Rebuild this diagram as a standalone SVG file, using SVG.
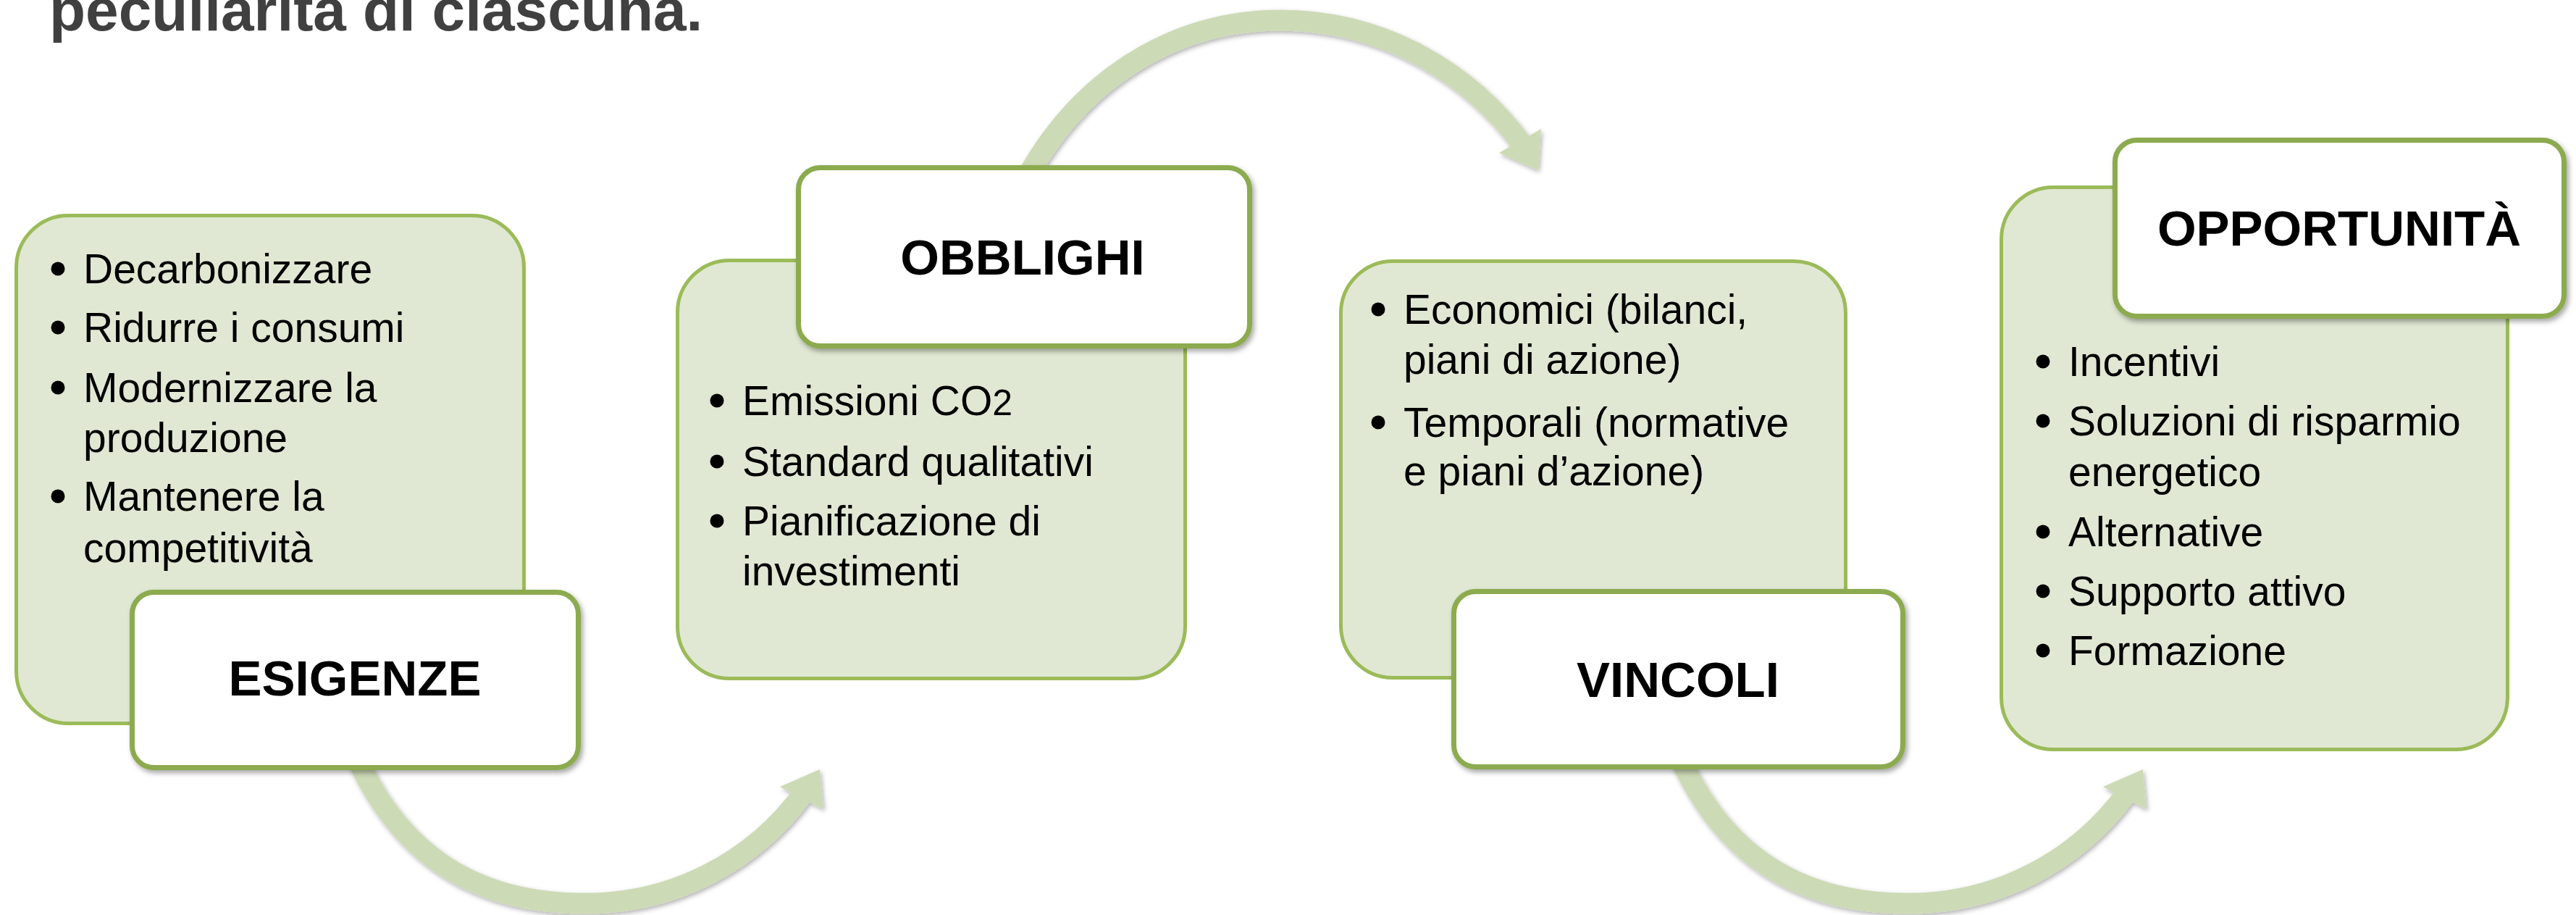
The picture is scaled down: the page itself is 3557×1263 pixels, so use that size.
<svg xmlns="http://www.w3.org/2000/svg" width="3557" height="1263" viewBox="0 0 3557 1263">
<defs>
<filter id="sh" x="-10%" y="-10%" width="125%" height="130%">
<feDropShadow dx="3" dy="4" stdDeviation="3.5" flood-color="#000" flood-opacity="0.35"/>
</filter>
<filter id="ash" x="-10%" y="-10%" width="125%" height="125%">
<feDropShadow dx="2" dy="3" stdDeviation="3" flood-color="#000" flood-opacity="0.3"/>
</filter>
<g id="arrowLow">
<path d="M 490 1040 C 560 1200, 680 1247, 808 1247 C 930 1247, 1040 1190, 1110 1094" fill="none" stroke="#CDDAB6" stroke-width="29"/>
<polygon points="1132,1062 1077,1086 1137,1117" fill="#CDDAB6"/>
</g>
</defs>
<style>
.title{font-family:"Liberation Sans",Arial,sans-serif;font-weight:bold;font-size:82px;fill:#404040}
.panel{fill:#E0E8D3;stroke:#9BBB59;stroke-width:5}
.head{fill:#FFFFFF;stroke:#8CAB50;stroke-width:7;filter:url(#sh)}
.hl{font-family:"Liberation Sans",Arial,sans-serif;font-weight:bold;font-size:69px;fill:#000;text-anchor:middle}
.it{font-family:"Liberation Sans",Arial,sans-serif;font-size:57px;fill:#000}
.bu{fill:#000}
</style>
<rect width="3557" height="1263" fill="#FFFFFF"/>
<text class="title" x="68" y="42">peculiarità di ciascuna.</text>

<g id="connectors" filter="url(#ash)">
<use href="#arrowLow"/>
<g id="arrowTop">
<path d="M 1415 250 C 1490 110, 1620 28, 1768 28 C 1910 28, 2030 100, 2104 202" fill="none" stroke="#CDDAB6" stroke-width="29"/>
<polygon points="2124,235 2070,211 2128,178" fill="#CDDAB6"/>
</g>
<use href="#arrowLow" transform="translate(1827,0)"/>
</g>

<g id="esigenze">
<rect class="panel" x="22.5" y="297.5" width="701" height="701" rx="72"/>
<circle class="bu" cx="80" cy="371" r="9.5"/>
<circle class="bu" cx="80" cy="452" r="9.5"/>
<circle class="bu" cx="80" cy="535" r="9.5"/>
<circle class="bu" cx="80" cy="685" r="9.5"/>
<text class="it" x="115" y="391">Decarbonizzare</text>
<text class="it" x="115" y="472">Ridurre i consumi</text>
<text class="it" x="115" y="555">Modernizzare la</text>
<text class="it" x="115" y="624">produzione</text>
<text class="it" x="115" y="705">Mantenere la</text>
<text class="it" x="115" y="776">competitività</text>
<rect class="head" x="182.5" y="817.5" width="616" height="242" rx="30"/>
<text class="hl" x="490" y="960">ESIGENZE</text>
</g>

<g id="obblighi">
<rect class="panel" x="935.5" y="359.5" width="701" height="577" rx="72"/>
<circle class="bu" cx="990" cy="553" r="9.5"/>
<circle class="bu" cx="990" cy="637" r="9.5"/>
<circle class="bu" cx="990" cy="719" r="9.5"/>
<text class="it" x="1025" y="573">Emissioni CO<tspan font-size="50px">2</tspan></text>
<text class="it" x="1025" y="657">Standard qualitativi</text>
<text class="it" x="1025" y="739">Pianificazione di</text>
<text class="it" x="1025" y="808">investimenti</text>
<rect class="head" x="1102.5" y="231.5" width="623" height="246" rx="30"/>
<text class="hl" x="1412" y="379">OBBLIGHI</text>
</g>

<g id="vincoli">
<rect class="panel" x="1851.5" y="360.5" width="697" height="575" rx="72"/>
<circle class="bu" cx="1903" cy="427" r="9.5"/>
<circle class="bu" cx="1903" cy="583" r="9.5"/>
<text class="it" x="1938" y="447">Economici (bilanci,</text>
<text class="it" x="1938" y="516">piani di azione)</text>
<text class="it" x="1938" y="603">Temporali (normative</text>
<text class="it" x="1938" y="670">e piani d’azione)</text>
<rect class="head" x="2007.5" y="816.5" width="620" height="242" rx="30"/>
<text class="hl" x="2317" y="962">VINCOLI</text>
</g>

<g id="opportunita">
<rect class="panel" x="2763.5" y="258.5" width="699" height="776" rx="72"/>
<circle class="bu" cx="2821" cy="499" r="9.5"/>
<circle class="bu" cx="2821" cy="581" r="9.5"/>
<circle class="bu" cx="2821" cy="734" r="9.5"/>
<circle class="bu" cx="2821" cy="816" r="9.5"/>
<circle class="bu" cx="2821" cy="898" r="9.5"/>
<text class="it" x="2856" y="519">Incentivi</text>
<text class="it" x="2856" y="601">Soluzioni di risparmio</text>
<text class="it" x="2856" y="671">energetico</text>
<text class="it" x="2856" y="754">Alternative</text>
<text class="it" x="2856" y="836">Supporto attivo</text>
<text class="it" x="2856" y="918">Formazione</text>
<rect class="head" x="2920.5" y="193.5" width="620" height="243" rx="30"/>
<text class="hl" x="3230" y="339">OPPORTUNITÀ</text>
</g>
</svg>
